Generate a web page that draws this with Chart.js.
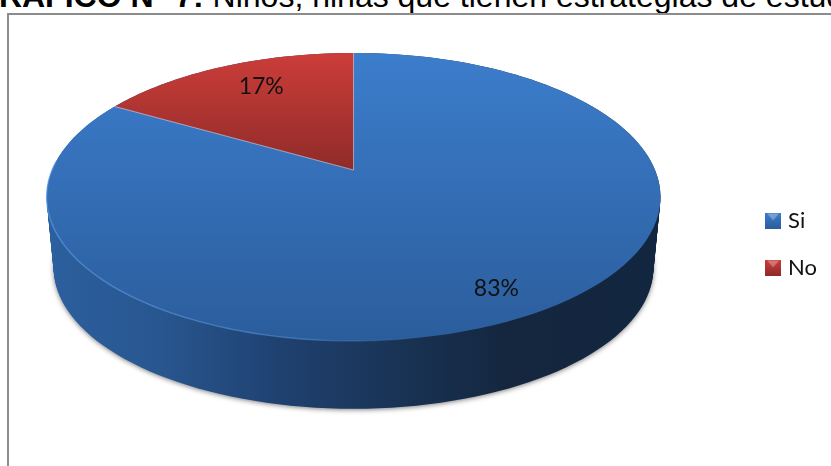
<!DOCTYPE html>
<html>
<head>
<meta charset="utf-8">
<script src="https://cdn.jsdelivr.net/npm/chart.js@4"></script>
<style>
  html, body { margin: 0; padding: 0; background: #fff; }
  #page { position: relative; width: 831px; height: 466px; overflow: hidden; }
  #titulo { position: absolute; left: -26px; top: -21px; white-space: nowrap; font: 32px/34px "Liberation Sans", Arial, sans-serif; color: #000; }
  #marco { position: absolute; left: 7px; top: 13px; width: 900px; height: 600px; border: 2px solid #8c8c8c; }
  #grafico { position: absolute; left: 0; top: 0; }
</style>
</head>
<body>
<div id="page">
  <div id="titulo"><b>GRAFICO N° 7:</b> Niños, niñas que tienen estrategias de estudio</div>
  <div id="marco"></div>
  <canvas id="grafico" width="831" height="466"></canvas>
</div>
<script>
const categorias = ['Si', 'No'];
const valores = [83.33, 16.67];
const etiquetas = ['83%', '17%'];

// colores de cada sector: arriba, abajo y muestra de la leyenda
const coloresArriba = ['#3c7dcc', '#cc3d39'];
const coloresAbajo = ['#2b5d9c', '#8f2b29'];

// la perspectiva del pastel 3D, todo relativo al radio que calcula Chart.js
const P = -0.1875;      // inclinacion
const ANCHO = 1.607;    // semieje horizontal
const ALTO = 0.754;     // semieje vertical
const GROSOR = 0.372;   // alto de la pared
const FONDO = 0.023;    // lo que se encoge la base
const FRACCION_ETIQUETA = [0.84, 0.76];
const LUGAR_ETIQUETA = [0.503, 0.55];

function proyectar(el, angulo, f, d) {
  const R = el.outerRadius;
  const cx = el.x - 18.5;
  const cy = el.y - 47;
  const u = Math.cos(angulo) * f;
  const v = Math.sin(angulo) * f;
  const w = 1 + P * v;
  const a = ANCHO * R * Math.sqrt(1 - P * P);
  const b = ALTO * R;
  const s = 1 - FONDO * d;
  return {
    x: cx + s * a * u / w,
    y: cy + GROSOR * R * d + s * (b * v + b * P) / w
  };
}

function trazarElipse(ctx, el, d) {
  ctx.beginPath();
  for (let i = 0; i <= 180; i++) {
    const p = proyectar(el, i * Math.PI / 90, 1, d);
    if (i === 0) ctx.moveTo(p.x, p.y); else ctx.lineTo(p.x, p.y);
  }
  ctx.closePath();
}

function trazarSector(ctx, el) {
  const centro = proyectar(el, 0, 0, 0);
  const pasos = 120;
  ctx.beginPath();
  ctx.moveTo(centro.x, centro.y);
  for (let i = 0; i <= pasos; i++) {
    const ang = el.startAngle + (el.endAngle - el.startAngle) * i / pasos;
    const p = proyectar(el, ang, 1, 0);
    ctx.lineTo(p.x, p.y);
  }
  ctx.closePath();
}

const pastel3d = {
  id: 'pastel3d',
  beforeDatasetsDraw(chart) {
    const ctx = chart.ctx;
    const arcos = chart.getDatasetMeta(0).data;
    const el = arcos[0];
    const izq = proyectar(el, Math.PI, 1, 0).x;
    const der = proyectar(el, 0, 1, 0).x;

    // pared lateral
    const pared = ctx.createLinearGradient(izq, 0, der, 0);
    pared.addColorStop(0, '#2c5f9e');
    pared.addColorStop(0.18, '#28568f');
    pared.addColorStop(0.38, '#1f4170');
    pared.addColorStop(0.55, '#1a3558');
    pared.addColorStop(0.75, '#14273f');
    pared.addColorStop(1, '#13263f');
    ctx.save();
    ctx.fillStyle = pared;
    ctx.shadowColor = 'rgba(0,0,0,0.5)';
    ctx.shadowBlur = 5;
    ctx.shadowOffsetY = 1;
    for (let i = 40; i >= 0; i--) {
      trazarElipse(ctx, el, i / 40);
      ctx.fill();
      ctx.shadowColor = 'transparent';
    }
    ctx.restore();

    // cara de arriba
    const arriba = proyectar(el, -Math.PI / 2, 1, 0).y;
    const abajo = proyectar(el, Math.PI / 2, 1, 0).y;
    arcos.forEach(function(arco, i) {
      let fin = abajo;
      if (arco.endAngle - arco.startAngle < Math.PI) fin = proyectar(el, 0, 0, 0).y;
      const g = ctx.createLinearGradient(0, arriba, 0, fin);
      g.addColorStop(0, coloresArriba[i]);
      g.addColorStop(1, coloresAbajo[i]);
      ctx.fillStyle = g;
      trazarSector(ctx, arco);
      ctx.fill();
    });
    arcos.forEach(function(arco) {
      const centro = proyectar(el, 0, 0, 0);
      const p = proyectar(el, arco.startAngle, 1, 0);
      ctx.strokeStyle = 'rgba(225,235,250,0.7)';
      ctx.lineWidth = 0.8;
      ctx.beginPath();
      ctx.moveTo(centro.x, centro.y);
      ctx.lineTo(p.x, p.y);
      ctx.stroke();
    });

    // brillo del borde
    const brillo = ctx.createLinearGradient(izq, 0, der, 0);
    brillo.addColorStop(0, 'rgba(95,160,235,0.6)');
    brillo.addColorStop(0.4, 'rgba(95,160,235,0.45)');
    brillo.addColorStop(0.62, 'rgba(95,160,235,0)');
    ctx.strokeStyle = brillo;
    ctx.lineWidth = 1.4;
    ctx.beginPath();
    for (let i = 0; i <= 90; i++) {
      const p = proyectar(el, Math.PI * 1.02 - i * Math.PI / 90 * 0.62, 1, 0);
      if (i === 0) ctx.moveTo(p.x, p.y); else ctx.lineTo(p.x, p.y);
    }
    ctx.stroke();

    // porcentajes
    ctx.fillStyle = '#111';
    ctx.font = '23px Lato, sans-serif';
    ctx.textAlign = 'center';
    ctx.textBaseline = 'middle';
    arcos.forEach(function(arco, i) {
      const medio = arco.startAngle + (arco.endAngle - arco.startAngle) * LUGAR_ETIQUETA[i];
      const p = proyectar(arco, medio, FRACCION_ETIQUETA[i], 0);
      ctx.fillText(etiquetas[i], p.x, p.y);
    });
    return false;
  }
};

function muestra(i) {
  const c = document.createElement('canvas');
  c.width = 16;
  c.height = 16;
  const x = c.getContext('2d');
  const g = x.createLinearGradient(0, 0, 0, 16);
  g.addColorStop(0, coloresArriba[i]);
  g.addColorStop(1, coloresAbajo[i]);
  x.fillStyle = g;
  x.fillRect(0, 0, 16, 16);
  x.fillStyle = 'rgba(255,255,255,0.3)';
  x.beginPath();
  x.moveTo(2, 1);
  x.lineTo(14, 1);
  x.lineTo(8, 8);
  x.closePath();
  x.fill();
  return c;
}

const ctx = document.getElementById('grafico');

new Chart(ctx, {
  type: 'pie',
  data: {
    labels: categorias,
    datasets: [{
      data: valores,
      backgroundColor: coloresArriba,
      borderWidth: 0
    }]
  },
  options: {
    responsive: false,
    animation: false,
    layout: { padding: { top: 53, bottom: 31, right: 4 } },
    plugins: {
      tooltip: { enabled: false },
      title: { display: false },
      legend: {
        position: 'right',
        labels: {
          color: '#111',
          font: { family: 'Lato', size: 22 },
          padding: 25,
          usePointStyle: true,
          pointStyleWidth: 8,
          generateLabels: function(chart) {
            return categorias.map(function(nombre, i) {
              return { text: nombre, pointStyle: muestra(i), fontColor: '#111', index: i, hidden: false };
            });
          }
        }
      }
    }
  },
  plugins: [pastel3d]
});
</script>
</body>
</html>
